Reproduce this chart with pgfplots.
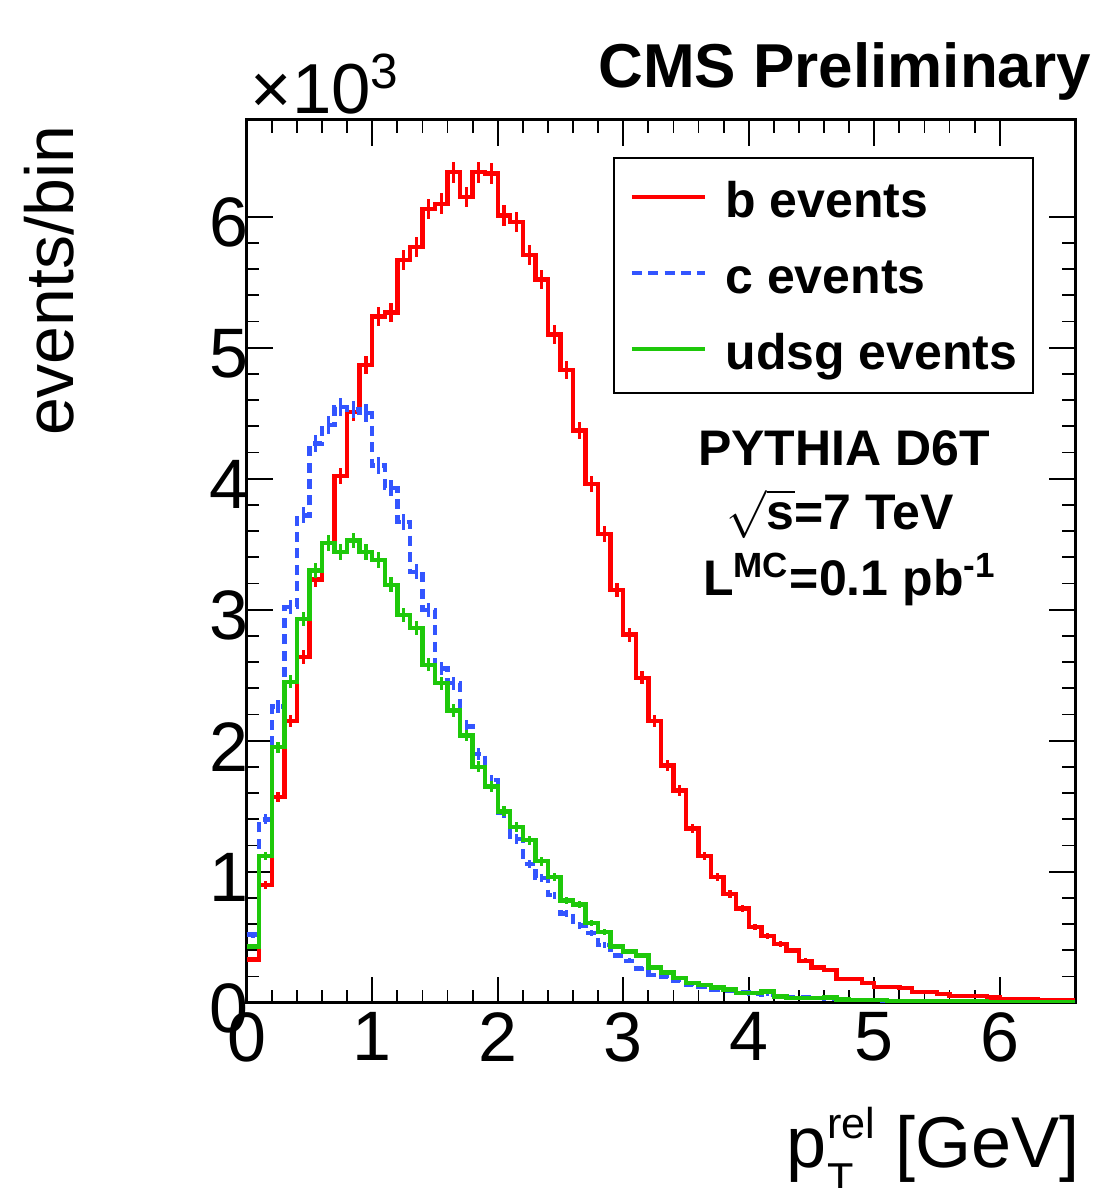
\documentclass[border=0pt]{standalone}
\usepackage{fontspec}
\setmainfont{Liberation Sans}
\usepackage{pgfplots}
\pgfplotsset{compat=1.18}
\usepackage{pgfplotstable}

\definecolor{bred}{RGB}{255,0,0}
\definecolor{cblue}{RGB}{51,85,255}
\definecolor{ugreen}{RGB}{30,200,10}

\pgfplotstableread{
x    b     c      u
0.0  0.33  0.52   0.43
0.1  0.90  1.40   1.12
0.2  1.57  2.26   1.95
0.3  2.15  3.02   2.45
0.4  2.64  3.72   2.93
0.5  3.23  4.27   3.30
0.6  3.51  4.41   3.51
0.7  4.02  4.55   3.44
0.8  4.51  4.53   3.53
0.9  4.87  4.50   3.44
1.0  5.24  4.10   3.38
1.1  5.27  3.93   3.19
1.2  5.67  3.67   2.96
1.3  5.77  3.29   2.86
1.4  6.06  3.00   2.58
1.5  6.10  2.55   2.44
1.6  6.34  2.44   2.23
1.7  6.15  2.11   2.04
1.8  6.34  1.90   1.80
1.9  6.33  1.70   1.65
2.0  6.01  1.45   1.46
2.1  5.96  1.25   1.34
2.2  5.71  1.06   1.24
2.3  5.52  0.95   1.08
2.4  5.10  0.82   0.96
2.5  4.83  0.68   0.78
2.6  4.37  0.59   0.75
2.7  3.96  0.53   0.61
2.8  3.58  0.44   0.54
2.9  3.15  0.36   0.43
3.0  2.81  0.32   0.39
3.1  2.48  0.26   0.36
3.2  2.15  0.21   0.27
3.3  1.81  0.20   0.23
3.4  1.62  0.17   0.19
3.5  1.33  0.14   0.15
3.6  1.12  0.12   0.135
3.7  0.96  0.10   0.115
3.8  0.83  0.09   0.10
3.9  0.72  0.08   0.075
4.0  0.58  0.07   0.075
4.1  0.51  0.06   0.085
4.2  0.45  0.05   0.048
4.3  0.40  0.045  0.035
4.4  0.32  0.04   0.034
4.5  0.27  0.035  0.034
4.6  0.25  0.03   0.04
4.7  0.18  0.025  0.025
4.8  0.18  0.02   0.02
4.9  0.15  0.02   0.02
5.0  0.12  0.018  0.02
5.1  0.12  0.015  0.015
5.2  0.11  0.012  0.015
5.3  0.08  0.01   0.012
5.4  0.08  0.01   0.012
5.5  0.065 0.008  0.01
5.6  0.05  0.007  0.01
5.7  0.05  0.006  0.008
5.8  0.05  0.005  0.008
5.9  0.04  0.005  0.007
6.0  0.03  0.004  0.006
6.1  0.03  0.004  0.005
6.2  0.03  0.003  0.005
6.3  0.02  0.003  0.004
6.4  0.02  0.002  0.004
6.5  0.02  0.002  0.003
6.6  0.02  0.002  0.003
}\hist

\begin{document}
\begin{tikzpicture}[x=1pt,y=1pt]
\path[use as bounding box] (-61.675,-46.325) rectangle (211.825,250.675);
\begin{axis}[
  at={(0,0)}, anchor=south west,
  width=207.1pt, height=220.7pt, scale only axis,
  xmin=0, xmax=6.6, ymin=0, ymax=6.74,
  axis line style={line width=0.75pt, black},
  xtick={0,1,2,3,4,5,6}, ytick={0,1,2,3,4,5,6},
  minor x tick num=4, minor y tick num=4,
  tick style={line width=0.45pt, black},
  major tick length=6.5pt, minor tick length=3.2pt,
  tick align=inside,
  /pgf/number format/assume math mode=true,
  every tick label/.append style={font=\fontsize{17.5}{20}\selectfont},
  xticklabel style={yshift=1pt},
  yticklabel style={xshift=4pt, yshift=-1.5pt},
  legend style={at={(0.4423,0.9579)}, anchor=north west, draw=black, line width=0.5pt,
    fill=white, inner xsep=4pt, inner ysep=3.9pt,
    font=\bfseries\fontsize{12.5}{15}\selectfont,
    nodes={inner sep=0pt, text height=11pt, text depth=2pt},
    row sep=6pt, column sep=4.8pt},
  legend cell align=left,
  legend image code/.code={\draw[#1, line width=0.85pt] (0pt,0.7pt) -- (18.2pt,0.7pt);},
]
\addplot[const plot, bred, line width=1.1pt] table[x=x, y=b]{\hist};
\addlegendentry{b events}
\addplot[forget plot, draw=none, mark=none,
  error bars/.cd, y dir=both, y explicit, error mark=none,
  error bar style={draw=bred, solid, line width=0.8pt}]
  table[x expr=\thisrow{x}+0.05, y=b, y error expr={sqrt(\thisrow{b}/1000)}]{\hist};

\addplot[const plot, cblue, line width=1.1pt, dash pattern=on 2.5pt off 1.6pt] table[x=x, y=c]{\hist};
\addlegendentry{c events}
\addplot[forget plot, draw=none, mark=none,
  error bars/.cd, y dir=both, y explicit, error mark=none,
  error bar style={draw=cblue, solid, line width=0.8pt}]
  table[x expr=\thisrow{x}+0.05, y=c, y error expr={sqrt(\thisrow{c}/1000)}]{\hist};

\addplot[const plot, ugreen, line width=1.1pt] table[x=x, y=u]{\hist};
\addlegendentry{udsg events}
\addplot[forget plot, draw=none, mark=none,
  error bars/.cd, y dir=both, y explicit, error mark=none,
  error bar style={draw=ugreen, solid, line width=0.8pt}]
  table[x expr=\thisrow{x}+0.05, y=u, y error expr={sqrt(\thisrow{u}/1000)}]{\hist};
\end{axis}

\node[anchor=base east, inner sep=0pt, font=\bfseries\fontsize{15.5}{18}\selectfont] at (211.3,228.7) {CMS Preliminary};
\node[anchor=base west, inner sep=0pt, font=\fontsize{17.7}{20}\selectfont] at (0.8,222.4) {×10\textsuperscript{3}};
\node[rotate=90, anchor=base east, inner sep=0pt, font=\fontsize{17}{20}\selectfont] at (-43.4,219.4) {events/bin};
\node[anchor=base east, inner sep=0pt, font=\fontsize{18}{20}\selectfont] at (208.3,-41.1)
  {p{\fontsize{10.8}{12}\selectfont\rlap{\raisebox{-6.5pt}{T}}\raisebox{7.25pt}{rel}} [GeV]};
\node[anchor=base, inner sep=0pt, font=\bfseries\fontsize{12.5}{15}\selectfont] at (149.3,134.4) {PYTHIA D6T};
\node[anchor=base, inner sep=0pt, font=\bfseries\fontsize{12.5}{15}\selectfont] at (148.4,118.2) {$\sqrt{\mbox{s}}$=7 TeV};
\node[anchor=base, inner sep=0pt, font=\bfseries\fontsize{12.5}{15}\selectfont] at (150.8,101.9) {L\textsuperscript{MC}=0.1 pb\textsuperscript{-1}};
\end{tikzpicture}
\end{document}
